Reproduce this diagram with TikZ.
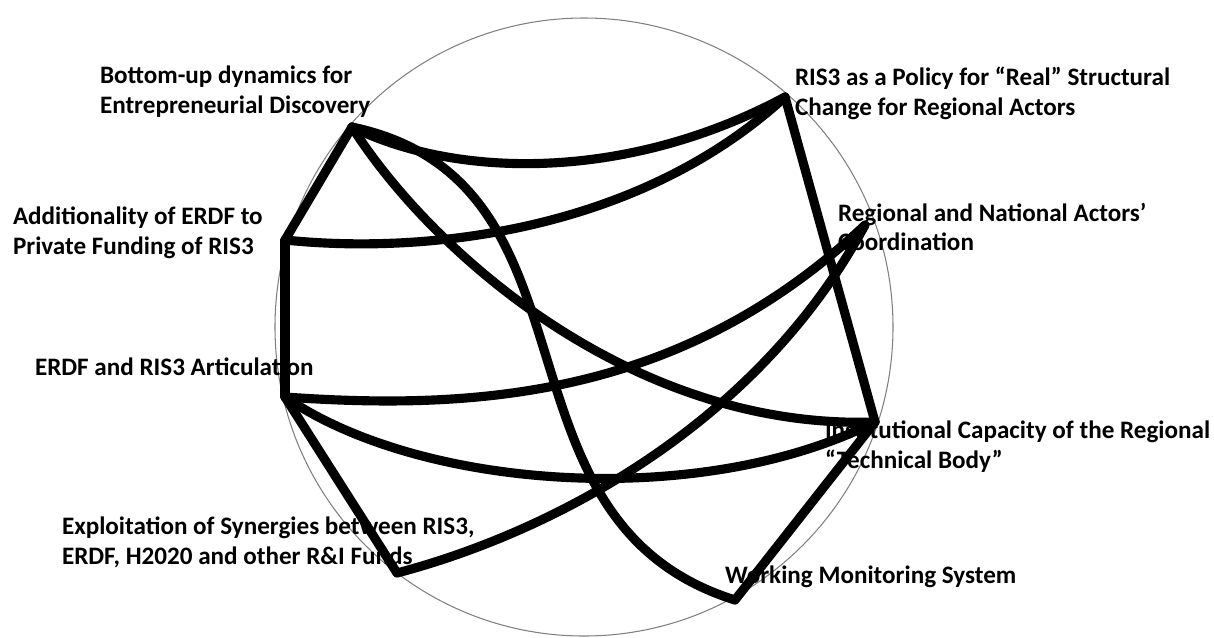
\documentclass[tikz,border=0pt]{standalone}
\usepackage{fontspec}
\setmainfont{Carlito}
\usetikzlibrary{positioning}
\tikzset{
	lbl/.style={anchor=west, inner sep=0, outer sep=0, align=left,
		font=\bfseries\fontsize{14.3}{17}\selectfont},
	link/.style={line width=5.2pt, line cap=round, line join=round},
}

\begin{document}
\begin{tikzpicture}[x=0.02cm, y=-0.02cm]
	\useasboundingbox (0,0) rectangle (1214,637);
	\draw[gray, line width=0.6pt] (584,327) circle (309);
	% labels
	\node[lbl] (l_bu) at (100,92) {Bottom-up dynamics for\\Entrepreneurial Discovery};
	\node[lbl] (l_pol) at (795,93) {RIS3 as a Policy for “Real” Structural\\Change for Regional Actors};
	\node[lbl] (l_coo) at (838,227) {Regional and National Actors’\\Coordination};
	\node[lbl] (l_add) at (13,233) {Additionality of ERDF to\\Private Funding of RIS3};
	\node[lbl] (l_art) at (35,367) {ERDF and RIS3 Articulation};
	\node[lbl] (l_ins) at (825,447) {Institutional Capacity of the Regional\\“Technical Body”};
	\node[lbl] (l_exs) at (62,542) {Exploitation of Synergies between RIS3,\\ERDF, H2020 and other R\&I Funds};
	\node[lbl] (l_mon) at (725,577) {Working Monitoring System};
	% points on the circle
	\coordinate (bu) at (352,127);
	\coordinate (pol) at (785,97);
	\coordinate (add) at (285,240);
	\coordinate (coo) at (865,225);
	\coordinate (art) at (285,397);
	\coordinate (ins) at (875,422);
	\coordinate (exs) at (397,573);
	\coordinate (mon) at (735,600);
	% straight links
	\path[link] (bu) edge (add);
	\path[link] (add) edge (art);
	\path[link] (art) edge (exs);
	\path[link] (pol) edge (ins);
	\path[link] (ins) edge (mon);
	% curved links
	\draw[link] (bu) .. controls +(108,53) and +(-155,83) .. (pol);
	\draw[link] (add) .. controls +(145,15) and +(-145,133) .. (pol);
	\draw[link] (bu) .. controls +(78,123) and +(-245,8) .. (ins);
	\draw[link] (bu) .. controls +(260,55) and +(-255,-80) .. (mon);
	\draw[link] (art) .. controls +(185,13) and +(-185,175) .. (coo);
	\draw[link] (art) .. controls +(135,93) and +(-175,88) .. (ins);
	\draw[link] (exs) .. controls +(163,-43) and +(-105,195) .. (coo);
\end{tikzpicture}
\end{document}
